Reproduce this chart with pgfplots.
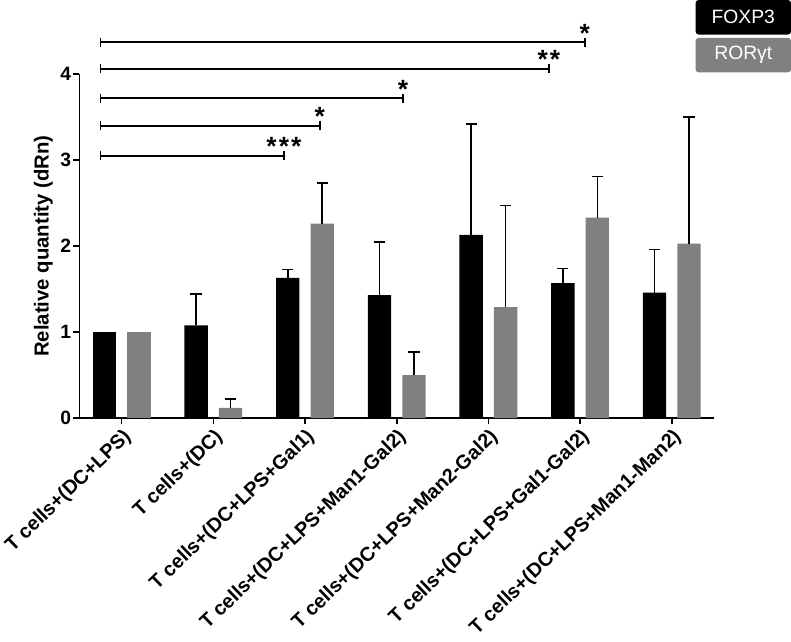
\documentclass[border=0pt]{standalone}
\usepackage{fontspec}
\setmainfont{Liberation Sans}
\usepackage{pgfplots}
\pgfplotsset{compat=1.18}
\usepackage{pgfplotstable}

\definecolor{rorgrey}{gray}{0.5}

\tikzset{
    sig/.style={black, line width=1.8pt, mark=|, mark size=4.5pt,
        mark options={line width=1.8pt}},
    star/.style={anchor=south, inner sep=0pt, yshift=-1pt,
        font=\bfseries\fontsize{26}{26}\selectfont},
}

% group  value  upward error
\pgfplotstableread{
x y e
1 1.08 0.36
2 1.63 0.10
3 1.43 0.62
4 2.13 1.29
5 1.57 0.17
6 1.46 0.50
}\foxp

\pgfplotstableread{
x y e
1 0.12 0.10
2 2.26 0.47
3 0.50 0.27
4 1.29 1.18
5 2.33 0.48
6 2.03 1.47
}\ror

\begin{document}
\begin{tikzpicture}
\begin{axis}[
    scale only axis, width=625pt, height=339pt,
    xmin=-0.46, xmax=6.46, ymin=0, ymax=4,
    axis x line=bottom, axis y line=left,
    axis line style={line width=1.8pt, -},
    clip=false,
    xtick={0,...,6},
    xticklabels={T cells+(DC+LPS), T cells+(DC), T cells+(DC+LPS+Gal1),
        T cells+(DC+LPS+Man1-Gal2), T cells+(DC+LPS+Man2-Gal2),
        T cells+(DC+LPS+Gal1-Gal2), T cells+(DC+LPS+Man1-Man2)},
    x tick label style={rotate=44, anchor=north east, inner sep=2pt,
        font=\bfseries\fontsize{19.5}{19.5}\selectfont},
    ytick={0,1,2,3,4},
    y tick label style={font=\bfseries\fontsize{19}{19}\selectfont, inner sep=2pt},
    /pgf/number format/assume math mode=true,
    tick align=outside, major tick length=6pt,
    tick style={line width=1.6pt, black},
    ylabel={Relative quantity (dRn)},
    ylabel style={font=\bfseries\fontsize{20}{20}\selectfont, yshift=2pt},
    error bars/error bar style={line width=1.6pt, black},
    error bars/error mark options={rotate=90, mark size=5.5pt, line width=1.6pt, black},
]
% first group, no error bars
\addplot[ybar, bar width=23pt, bar shift=0pt, fill=black, draw=none]
    coordinates {(-0.188,1.0)};
\addplot[ybar, bar width=23pt, bar shift=0pt, fill=rorgrey, draw=none]
    coordinates {(0.188,1.0)};

\addplot[ybar, bar width=23pt, bar shift=0pt, fill=black, draw=none,
    error bars/.cd, y dir=plus, y explicit]
    table[x expr=\thisrow{x}-0.188, y=y, y error=e] {\foxp};
\addplot[ybar, bar width=23pt, bar shift=0pt, fill=rorgrey, draw=none,
    error bars/.cd, y dir=plus, y explicit]
    table[x expr=\thisrow{x}+0.188, y=y, y error=e] {\ror};

% significance brackets
\addplot[sig] coordinates {(-0.23,3.05) (1.77,3.05)}
    node[star, pos=1] {*\hspace{2pt}*\hspace{2pt}*};
\addplot[sig] coordinates {(-0.23,3.40) (2.16,3.40)}
    node[star, pos=1] {*};
\addplot[sig] coordinates {(-0.23,3.72) (3.07,3.72)}
    node[star, pos=1] {*};
\addplot[sig] coordinates {(-0.23,4.06) (4.66,4.06)}
    node[star, pos=1] {*\hspace{2pt}*};
\addplot[sig] coordinates {(-0.23,4.37) (5.05,4.37)}
    node[star, pos=1] {*};

% legend boxes
\node[fill=black, text=white, rounded corners=3pt, minimum width=94pt,
    minimum height=34pt, font=\fontsize{19}{19}\selectfont]
    at (axis cs:6.78,4.66) {FOXP3};
\node[fill=rorgrey, text=white, rounded corners=3pt, minimum width=94pt,
    minimum height=34pt, font=\fontsize{19}{19}\selectfont]
    at (axis cs:6.78,4.22) {RORγt};
\end{axis}
\end{tikzpicture}
\end{document}
